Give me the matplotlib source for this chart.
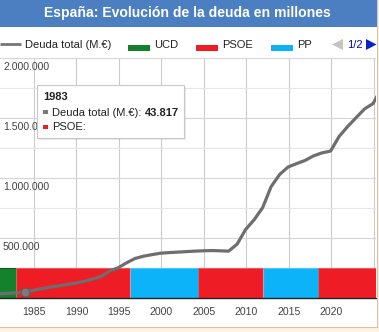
import numpy as np
import matplotlib.pyplot as plt
from matplotlib import patches, transforms

plt.rcParams["font.family"] = ["Liberation Sans", "DejaVu Sans"]

# Datos
# -----------------------------------------------------------------------------
anios = np.arange(1980, 2025)
deuda = [31000, 35000, 39000, 43817, 60000, 73000, 87000, 97000, 109000, 120000,
         135000, 154000, 177000, 221000, 248000, 290000, 326000, 345000, 358000, 370000,
         375000, 379000, 383000, 387000, 390000, 392000, 390000, 387000, 446000, 568000,
         649000, 750000, 926000, 1027000, 1090000, 1118000, 1145000, 1183000, 1208000, 1223000,
         1345000, 1427000, 1502000, 1575000, 1620000]
fecha_ultimo = 2025.3      # dato parcial 2025
deuda_ultimo = 1672000

partidos = ["UCD", "PSOE", "PP", "PSOE", "PP", "PSOE"]
inicio   = [1979.0, 1982.92, 1996.35, 2004.3, 2011.97, 2018.43]
fin      = [1982.92, 1996.35, 2004.3, 2011.97, 2018.43, 2026.0]
franja   = 250000

colores = {"UCD": "#14812c", "PSOE": "#ee1c25", "PP": "#0db3f8"}
bordes  = {"UCD": "#0b5e1d", "PSOE": "#f0555b", "PP": "#4cc6f8"}

anio_sel = 1983
yticks_lab = [500000, 1000000, 1500000, 2000000]
xticks = list(range(1985, 2026, 5))
xlabels = [str(t) for t in xticks[:-1]] + [""]   # 2025 queda cortado por el borde

# Figura
# -----------------------------------------------------------------------------
W, H = 379, 332
fig = plt.figure(figsize=(W / 100, H / 100), dpi=100)
fig.patch.set_facecolor("#fcf1e2")

# fondo (coordenadas en pixeles)
bg = fig.add_axes([0, 0, 1, 1], zorder=0)
bg.set_xlim(0, W)
bg.set_ylim(H, 0)
bg.axis("off")
bg.add_patch(patches.Rectangle((-5, -5), 381.5, 331.5, fc="white", ec="none"))
bg.add_patch(patches.Rectangle((-5, -5), 381.5, 32, fc="#4b7fc1", ec="none"))
bg.text(187, 13.5, "España: Evolución de la deuda en millones", color="white",
        fontsize=10.1, fontweight="bold", ha="center", va="center")

# grafico principal
ax = fig.add_axes([0, 1 - 297.5 / H, 376 / W, (297.5 - 58) / H], zorder=1)
ax.patch.set_alpha(0)
x_linea = np.append(anios + 0.9, fecha_ultimo)
y_linea = np.append(deuda, deuda_ultimo)

for p, a, b in zip(partidos, inicio, fin):
    ax.bar(a, franja, width=b - a, align="edge", color=colores[p],
           edgecolor=bordes[p], linewidth=0.8, zorder=2)

ax.plot(x_linea, y_linea, color="#6e6e6e", linewidth=2.3, zorder=4,
        solid_joinstyle="round")
i_sel = list(anios).index(anio_sel)
ax.plot(anios[i_sel] + 0.9, deuda[i_sel], "o", ms=6.4, color="#7a7a7a",
        mec="#5e5e5e", mew=0.8, zorder=5)

ax.set_xlim(1981.0, 2025.24)
ax.set_ylim(0, 2000000)
ax.set_yticks(np.arange(0, 2000001, 500000))
ax.set_yticks(np.arange(250000, 2000001, 500000), minor=True)
ax.grid(axis="y", which="major", color="#d6d6d6", linewidth=0.8, zorder=0)
ax.grid(axis="y", which="minor", color="#e6e6e6", linewidth=0.8, zorder=0)
ax.set_xticks(xticks)
ax.set_xticklabels(xlabels)
ax.grid(axis="x", color="#cbcbcb", linewidth=0.8, zorder=0)
ax.tick_params(axis="both", which="both", length=0)
ax.tick_params(axis="x", labelsize=7.6, labelcolor="#444444", pad=6.5)
ax.tick_params(axis="y", labelleft=False)
for s in ["left", "right", "top"]:
    ax.spines[s].set_visible(False)
ax.spines["bottom"].set_color("#222222")
ax.spines["bottom"].set_linewidth(1.0)
ax.spines["bottom"].set_zorder(6)

trans = transforms.blended_transform_factory(ax.transAxes, ax.transData)
trans = trans + transforms.ScaledTranslation(3 / 100, -12.5 / 100, fig.dpi_scale_trans)
for v in yticks_lab:
    ax.text(0, v, "{:,}".format(v).replace(",", "."), transform=trans,
            fontsize=7.6, color="#444444", ha="left", va="baseline", zorder=3)

# leyenda, tooltip y marco
fg = fig.add_axes([0, 0, 1, 1], zorder=3)
fg.set_xlim(0, W)
fg.set_ylim(H, 0)
fg.axis("off")
fg.patch.set_alpha(0)

ly = 44.5
fg.plot([0, 21], [43.5, 43.5], color="#757575", linewidth=2.0, solid_capstyle="butt")
fg.text(25, ly, "Deuda total (M.€)", fontsize=8, color="#222222", va="center")
for p, x0 in zip(["UCD", "PSOE", "PP"], [128, 196, 271]):
    fg.add_patch(patches.Rectangle((x0, 45.3), 22, 5.4, fc=colores[p], ec="none"))
    fg.text(x0 + 26, ly, p, fontsize=8, color="#222222", va="center")
fg.add_patch(patches.Polygon([(332, 44.5), (343, 39), (343, 50)], fc="#c4c4c4", ec="none"))
fg.text(347, ly, "1/2", fontsize=8, color="#0000cc", va="center")
fg.add_patch(patches.Polygon([(366, 39), (366, 50), (376.5, 44.5)], fc="#0a22c8", ec="none"))

# tooltip
fg.add_patch(patches.Rectangle((39, 87), 147, 53, fc="#000000", alpha=0.08, ec="none"))
fg.add_patch(patches.Rectangle((37, 85), 147, 53, fc="white", ec="#c8c8c8", lw=0.8))
fg.text(43, 100.5, str(anio_sel), fontsize=8, fontweight="bold", color="#222222",
        va="baseline")
fg.add_patch(patches.Rectangle((43, 109.5), 4.5, 4.5, fc="#777777", ec="none"))
t1 = fg.text(52, 115.5, "Deuda total (M.€): ", fontsize=8, color="#222222",
             va="baseline")
fig.canvas.draw()
bb = t1.get_window_extent().transformed(fg.transData.inverted())
fg.text(bb.x1, 115.5, "{:,}".format(deuda[i_sel]).replace(",", "."), fontsize=8,
        fontweight="bold", color="#222222", va="baseline")
fg.add_patch(patches.Rectangle((43, 124.5), 4.5, 4.5, fc=colores["PSOE"], ec="none"))
fg.text(52, 130.5, "PSOE:", fontsize=8, color="#222222", va="baseline")

# marco beige
fg.add_patch(patches.Rectangle((376.5, -5), 10, 340, fc="#fcf1e2", ec="none"))
fg.add_patch(patches.Rectangle((-5, 326.5), 390, 10, fc="#fcf1e2", ec="none"))
fg.plot([376.5, 376.5], [-5, 326.5], color="#d9c4a6", linewidth=0.8)
fg.plot([-5, 376.5], [326.5, 326.5], color="#d9c4a6", linewidth=0.8)

plt.savefig("out.png", dpi=100, facecolor=fig.get_facecolor())
